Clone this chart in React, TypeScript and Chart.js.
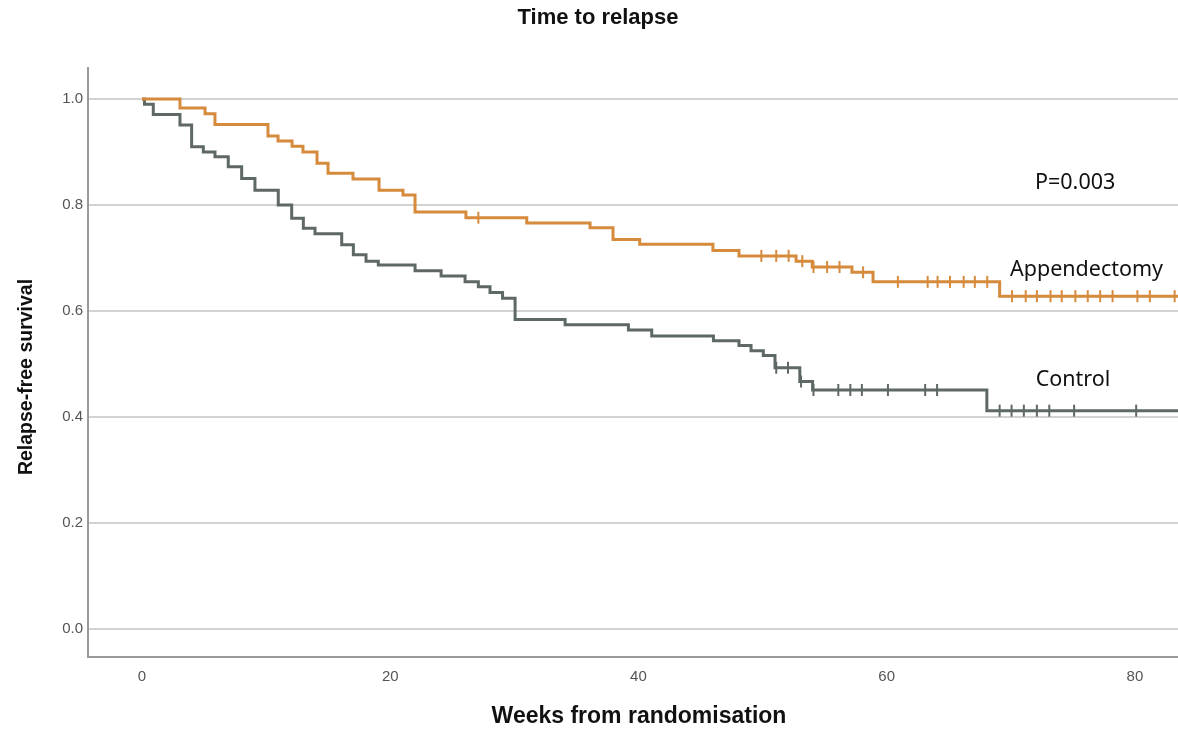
import React, { useEffect, useRef } from "react";
import { Chart, registerables } from "chart.js";

Chart.register(...registerables);

// ---- Data ----
const weekTicks = [0, 20, 40, 60, 80];
const survivalTicks = [0, 0.2, 0.4, 0.6, 0.8, 1.0];

// Appendectomy: event times (weeks) and survival after each step
const appTimes = [0, 3.06, 5.08, 5.88, 10.15, 10.96, 12.09, 12.97, 14.1, 14.99, 17.0, 19.1, 21.03, 22.0, 26.1, 31.0, 36.1, 37.95, 40.1, 46.0, 48.1, 52.7, 54.0, 57.2, 58.9, 69.1, 83.6];
const appSurv = [1.0, 0.983, 0.972, 0.952, 0.93, 0.921, 0.911, 0.9, 0.879, 0.86, 0.849, 0.828, 0.819, 0.787, 0.776, 0.766, 0.757, 0.735, 0.726, 0.714, 0.704, 0.694, 0.683, 0.673, 0.655, 0.628, 0.628];
const appCensored = [27.1, 49.9, 51.1, 52.1, 53.2, 54.1, 55.2, 56.2, 58.1, 60.9, 63.3, 64.1, 65.1, 66.2, 67.1, 68.1, 70.1, 71.2, 72.1, 73.2, 74.1, 75.2, 76.2, 77.2, 78.2, 80.2, 81.2, 83.2];

// Control
const ctrlTimes = [0, 0.2, 0.91, 3.06, 4.0, 4.94, 5.88, 6.95, 8.03, 9.1, 10.98, 12.06, 13.0, 13.94, 16.09, 17.03, 18.05, 19.04, 22.0, 24.1, 26.03, 27.1, 28.04, 29.05, 30.06, 34.09, 39.19, 41.07, 46.04, 48.1, 49.07, 50.06, 51.0, 53.0, 54.03, 68.07, 83.6];
const ctrlSurv = [1.0, 0.99, 0.971, 0.951, 0.91, 0.9, 0.891, 0.872, 0.85, 0.828, 0.8, 0.775, 0.756, 0.746, 0.725, 0.706, 0.694, 0.687, 0.676, 0.666, 0.655, 0.646, 0.635, 0.624, 0.584, 0.574, 0.564, 0.553, 0.544, 0.535, 0.525, 0.516, 0.493, 0.467, 0.451, 0.412, 0.412];
const ctrlCensored = [51.1, 52.05, 53.1, 54.1, 56.1, 57.07, 58.0, 60.1, 63.1, 64.06, 69.1, 70.06, 71.05, 72.1, 73.1, 75.1, 80.1];

const seriesNames = ["Appendectomy", "Control"];
const pValueText = "P=0.003";

const ORANGE = "#d68a3c";
const GREY = "#5e6866";

function levelAt(times: number[], surv: number[], t: number) {
  let v = surv[0];
  for (let i = 0; i < times.length; i++) {
    if (times[i] <= t) v = surv[i];
  }
  return v;
}

const textPlugin = {
  id: "textLabels",
  afterDraw(chart: any) {
    const ctx = chart.ctx;
    const xs = chart.scales.x;
    const ys = chart.scales.y;
    ctx.save();
    ctx.fillStyle = "#111";
    ctx.textBaseline = "middle";
    ctx.textAlign = "center";
    ctx.font = "bold 22px 'Liberation Sans', Arial, sans-serif";
    ctx.fillText("Time to relapse", 598, 18);

    ctx.font = "bold 23px 'Liberation Sans', Arial, sans-serif";
    ctx.fillText("Weeks from randomisation", 639, 717);

    ctx.save();
    ctx.translate(27, 377);
    ctx.rotate(-Math.PI / 2);
    ctx.font = "bold 19.5px 'Liberation Sans', Arial, sans-serif";
    ctx.fillText("Relapse-free survival", 0, 0);
    ctx.restore();

    ctx.textAlign = "left";
    ctx.font = "21.5px 'Noto Sans', sans-serif";
    ctx.fillText(pValueText, xs.getPixelForValue(71.95), ys.getPixelForValue(0.8415));
    ctx.fillText(seriesNames[0], xs.getPixelForValue(69.93), ys.getPixelForValue(0.677));
    ctx.fillText(seriesNames[1], xs.getPixelForValue(72.0), ys.getPixelForValue(0.47));
    ctx.restore();
  },
};

export default function App() {
  const ref = useRef<HTMLCanvasElement | null>(null);
  useEffect(() => {
    if (!ref.current) return;
    const mk = (times: number[], surv: number[]) => times.map((t, i) => ({ x: t, y: surv[i] }));
    const cens = (c: number[], times: number[], surv: number[]) => c.map((t) => ({ x: t, y: levelAt(times, surv, t) }));
    const chart = new Chart(ref.current, {
      type: "line",
      data: {
        datasets: [
          {
            label: seriesNames[0],
            data: mk(appTimes, appSurv),
            borderColor: ORANGE,
            borderWidth: 3,
            stepped: true,
            pointRadius: 0,
            fill: false,
          },
          {
            label: seriesNames[1],
            data: mk(ctrlTimes, ctrlSurv),
            borderColor: GREY,
            borderWidth: 3,
            stepped: true,
            pointRadius: 0,
            fill: false,
          },
          {
            label: seriesNames[0] + " censored",
            data: cens(appCensored, appTimes, appSurv),
            showLine: false,
            pointStyle: "line",
            rotation: 90,
            pointRadius: 6,
            borderColor: ORANGE,
            pointBorderWidth: 2,
            borderWidth: 2,
          } as any,
          {
            label: seriesNames[1] + " censored",
            data: cens(ctrlCensored, ctrlTimes, ctrlSurv),
            showLine: false,
            pointStyle: "line",
            rotation: 90,
            pointRadius: 6,
            borderColor: GREY,
            pointBorderWidth: 2,
            borderWidth: 2,
          } as any,
        ],
      },
      options: {
        animation: false,
        responsive: false,
        maintainAspectRatio: false,
        layout: { autoPadding: false, padding: { top: 68, left: 0, right: 0, bottom: 0 } },
        plugins: {
          legend: { display: false },
          title: { display: false },
          tooltip: { enabled: false },
        },
        scales: {
          x: {
            type: "linear",
            min: -4.35,
            max: 83.47,
            afterBuildTicks: (s: any) => {
              s.ticks = weekTicks.map((v) => ({ value: v }));
            },
            afterFit: (s: any) => {
              s.height = 73;
              s.paddingLeft = 0;
              s.paddingRight = 0;
            },
            grid: { display: false, drawTicks: false },
            border: { display: true, color: "#9a9a9a", width: 2 },
            ticks: {
              padding: 11,
              color: "#555",
              font: { family: "'Liberation Sans', Arial, sans-serif", size: 15 },
              callback: (v: any) => String(v),
              maxRotation: 0,
            },
          },
          y: {
            type: "linear",
            min: -0.0528,
            max: 1.0585,
            afterBuildTicks: (s: any) => {
              s.ticks = survivalTicks.map((v) => ({ value: v }));
            },
            afterFit: (s: any) => {
              s.width = 88;
              s.paddingTop = 0;
              s.paddingBottom = 0;
            },
            grid: { display: true, drawTicks: false, color: "#d2d2d2", lineWidth: 2 },
            border: { display: true, color: "#9a9a9a", width: 2 },
            ticks: {
              padding: 5,
              color: "#555",
              font: { family: "'Liberation Sans', Arial, sans-serif", size: 15 },
              callback: (v: any) => Number(v).toFixed(1),
            },
          },
        },
      },
      plugins: [textPlugin],
    } as any);
    return () => chart.destroy();
  }, []);
  return (
    <div style={{ position: "absolute", left: 0, top: 0, width: 1178, height: 730, background: "#fff" }}>
      <canvas ref={ref} width={1178} height={730} style={{ display: "block" }} />
    </div>
  );
}
